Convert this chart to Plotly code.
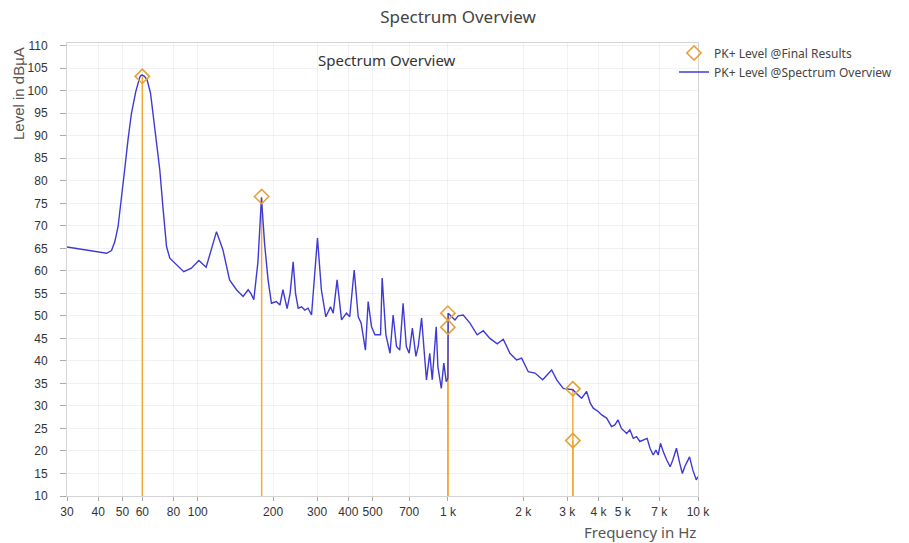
import plotly.graph_objects as go

# ---- data ----
spec_freq = [30, 36, 43.2, 45.2, 46.6, 48, 49.5, 51, 52.6, 54.3, 56.5, 58.6, 59.3, 60, 61.2, 62.7, 64.7,
             66.2, 68.4, 70.5, 72.7, 75, 77.3, 80.9, 87.9, 94.3,
             101, 108, 118.8, 126, 134, 142.8, 151.8, 159, 163, 167.5, 174, 179.7, 185, 191, 197,
             206, 213, 219, 227.6, 234, 240.6, 246, 252, 260, 268, 276, 285, 301, 312, 325, 339.5,
             348, 360.6, 375.6, 393, 405, 422, 438, 450, 468, 480, 495, 511, 538, 546, 565, 587,
             604, 623, 642, 662, 682, 700, 721, 745, 761, 785, 809, 821, 846, 866, 898, 912, 941,
             963, 985, 1000, 1003, 1067, 1100, 1152, 1225, 1310, 1385, 1472, 1575, 1665, 1770,
             1883, 1972, 2096, 2230, 2393, 2600, 2723, 2891, 3160, 3320, 3426, 3587, 3709, 3814,
             4000, 4120, 4312, 4510, 4650, 4790, 4940, 5188, 5340, 5510, 5680, 5855, 6030, 6260,
             6430, 6620, 6790, 6930, 7080, 7265, 7500, 7740, 7930, 8200, 8450, 8660, 8850, 8980,
             9250, 9530, 9840, 10000]
spec_level = [65.3, 64.6, 63.9, 64.5, 66.5, 69.8, 75.8, 82.4, 89.1, 95, 99.8, 103.0, 103.4, 103.5, 103.2, 102.4, 99.5,
              95, 89.1, 82.4, 73.6, 65.4, 62.8, 61.7, 59.8, 60.6,
              62.3, 60.8, 68.7, 64.7, 58, 55.8, 54.3, 55.8, 55, 53.6, 62, 76.2, 66, 58, 52.8,
              53.2, 52.4, 55.8, 51.6, 55, 62, 55, 51.7, 52, 51.3, 51.7, 50.2, 67.3, 55.8, 49.8, 52,
              50.6, 58, 49.1, 50.6, 49.8, 60.2, 49.8, 48.4, 42.4, 53.2, 47.6, 45.8, 45.8, 58.4, 45.8, 41.7,
              50.2, 43.2, 42.4, 52.8, 43.2, 41.7, 47.3, 41, 43.2, 49.5, 40.2, 35.8, 41.7, 35.8, 47.6, 38.7, 33.9,
              39.5, 35.4, 36.2, 50.6, 49.1, 50, 50.2, 48.4, 45.8, 46.7, 45, 43.8, 44.8, 41.7,
              40.2, 40.6, 37.6, 37.3, 35.8, 38, 35.8, 33.9, 33.6, 32.4, 31.7, 33.2, 30.6, 29.5,
              28.7, 28, 27.3, 25.4, 25.8, 26.9, 25, 23.9, 24.7, 22.8, 23.2, 22.1, 22.4, 22.8,
              20.6, 19.1, 20.2, 19.1, 21.7, 19.8, 18, 16.5, 18, 20.6, 17.3, 15, 16.5, 17.3,
              18.7, 15.8, 13.6, 14.3]

final_freq = [60, 180, 1000, 1000, 3160, 3160]
final_level = [103.2, 76.5, 50.6, 47.5, 33.8, 22.3]

x_tickvals = [30, 40, 50, 60, 80, 100, 200, 300, 400, 500, 700, 1000, 2000, 3000, 4000, 5000, 7000, 10000]
x_ticktext = ["30", "40", "50", "60", "80", "100", "200", "300", "400", "500", "700",
              "1 k", "2 k", "3 k", "4 k", "5 k", "7 k", "10 k"]
y_tickvals = list(range(10, 111, 5))

Y_MIN = 10

# stems from axis floor to each final-result marker
stem_x, stem_y = [], []
for f, l in zip(final_freq, final_level):
    stem_x += [f, f, None]
    stem_y += [Y_MIN, l, None]

ORANGE = "#F2AA3A"
BLUE = "#3F3AD6"

fig = go.Figure()
fig.add_trace(go.Scatter(x=stem_x, y=stem_y, mode="lines",
                         line=dict(color=ORANGE, width=1.5),
                         showlegend=False, hoverinfo="skip"))
fig.add_trace(go.Scatter(x=spec_freq, y=spec_level, mode="lines",
                         line=dict(color=BLUE, width=1.4),
                         name="PK+ Level @Spectrum Overview", showlegend=False))
fig.add_trace(go.Scatter(x=final_freq, y=final_level, mode="markers",
                         marker=dict(symbol="diamond-open", size=11, color="#E3A23A",
                                     line=dict(width=1.6, color="#E3A23A")),
                         name="PK+ Level @Final Results", showlegend=True))
# legend-only entry for spectrum (keeps order: Final Results first)
fig.add_trace(go.Scatter(x=[None], y=[None], mode="lines",
                         line=dict(color=BLUE, width=1.4),
                         name="PK+ Level @Spectrum Overview", showlegend=True))

fig.update_layout(
    width=909, height=543,
    margin=dict(l=67, r=211, t=43, b=47),
    paper_bgcolor="white", plot_bgcolor="white",
    title=dict(text="Spectrum Overview", x=458/909, xanchor="center",
               y=1 - 17/543, yanchor="middle",
               font=dict(family="Noto Sans", size=17, color="#444")),
    showlegend=True,
    legend=dict(x=0.962, xanchor="left", y=1.01, yanchor="top",
                bgcolor="rgba(255,255,255,0)", itemwidth=30,
                font=dict(family="Noto Sans", size=12, color="#444"),
                tracegroupgap=0),
    xaxis=dict(type="log", range=[1.4771, 4.0], tickvals=x_tickvals, ticktext=x_ticktext,
               showgrid=True, gridcolor="rgba(0,0,0,0.05)", gridwidth=1,
               showline=True, linecolor="#d4d4d4", mirror=True,
               ticks="outside", ticklen=4, tickcolor="#aaa", ticklabelstandoff=1,
               tickfont=dict(family="Liberation Sans", size=12, color="#333"),
               zeroline=False),
    yaxis=dict(range=[10, 110.6], tickvals=y_tickvals,
               showgrid=True, gridcolor="rgba(0,0,0,0.05)", gridwidth=1,
               showline=True, linecolor="#d4d4d4", mirror=True,
               ticks="outside", ticklen=6, tickcolor="#aaa", ticklabelstandoff=10,
               tickfont=dict(family="Liberation Sans", size=12, color="#333"),
               zeroline=False),
    annotations=[
        dict(text="Spectrum Overview", xref="paper", yref="paper",
             x=(387 - 67) / 631, y=1 - (60 - 43) / 453, xanchor="center", yanchor="middle",
             showarrow=False, font=dict(family="Noto Sans", size=15, color="#333")),
        dict(text="Level in dBµA", xref="paper", yref="paper",
             x=(18 - 67) / 631, y=1 - (94 - 43) / 453, xanchor="center", yanchor="middle",
             textangle=-90, showarrow=False,
             font=dict(family="Liberation Sans", size=15, color="#555")),
        dict(text="Frequency in Hz", xref="paper", yref="paper",
             x=1.0, y=-(532 - 496) / 453, xanchor="right", yanchor="middle",
             showarrow=False, font=dict(family="Noto Sans", size=15, color="#555")),
    ],
)

fig.write_html("out.html")
